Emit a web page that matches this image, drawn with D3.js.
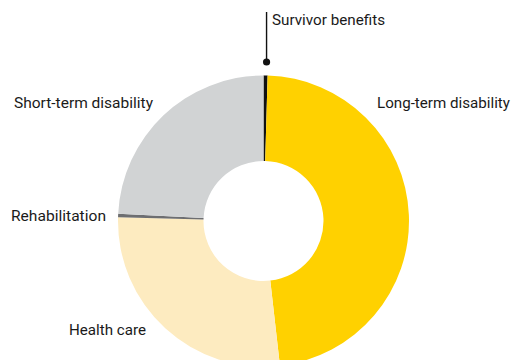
<!DOCTYPE html>
<html>
<head>
<meta charset="utf-8">
<script src="https://cdn.jsdelivr.net/npm/d3@7"></script>
<style>
  html, body { margin: 0; padding: 0; background: #fff; }
  svg text { font-family: "Roboto", "Liberation Sans", sans-serif; font-size: 15.5px; fill: #1a1a1a; }
</style>
</head>
<body>
<svg id="chart" width="513" height="360"></svg>
<script>
// Share of benefit spending by category (percent), clockwise from 12 o'clock
const categories = ["Survivor benefits", "Long-term disability", "Health care", "Rehabilitation", "Short-term disability"];
const shares = [0.45, 47.75, 27.2, 0.4, 24.2];
const colors = ["#111111", "#FFD100", "#FDEBC0", "#6D6E71", "#D1D3D4"];

const svg = d3.select("#chart");
const cx = 263.5, cy = 221;
const rOuter = 145.5, rInner = 60;

const pie = d3.pie().sort(null).value(d => d);
const arc = d3.arc().innerRadius(rInner).outerRadius(rOuter);
const color = d3.scaleOrdinal().domain(categories).range(colors);

const g = svg.append("g").attr("transform", `translate(${cx},${cy})`);
const arcs = pie(shares);

g.selectAll("path")
  .data(arcs)
  .join("path")
  .attr("d", arc)
  .attr("fill", (d, i) => color(categories[i]));

// Label placement (left x, baseline y, condensed width) per category
const labelPos = {
  "Survivor benefits":     { x: 272, y: 25,  w: 113 },
  "Long-term disability":  { x: 377, y: 108, w: 133 },
  "Health care":           { x: 69,  y: 335, w: 77 },
  "Rehabilitation":        { x: 11,  y: 221, w: 95 },
  "Short-term disability": { x: 14,  y: 108, w: 139 }
};

svg.selectAll("text.lbl")
  .data(categories)
  .join("text")
  .attr("class", "lbl")
  .attr("x", d => labelPos[d].x)
  .attr("y", d => labelPos[d].y)
  .attr("textLength", d => labelPos[d].w)
  .attr("lengthAdjust", "spacingAndGlyphs")
  .text(d => d);

// Leader for the small survivor slice
const surv = arcs[0];
const midA = (surv.startAngle + surv.endAngle) / 2;
const lx = cx + Math.sin(midA) * rOuter + 1;
svg.append("line")
  .attr("x1", lx).attr("x2", lx)
  .attr("y1", 12).attr("y2", 62)
  .attr("stroke", "#111").attr("stroke-width", 1.4);
svg.append("circle")
  .attr("cx", lx).attr("cy", 62).attr("r", 3.6)
  .attr("fill", "#111");
</script>
</body>
</html>
